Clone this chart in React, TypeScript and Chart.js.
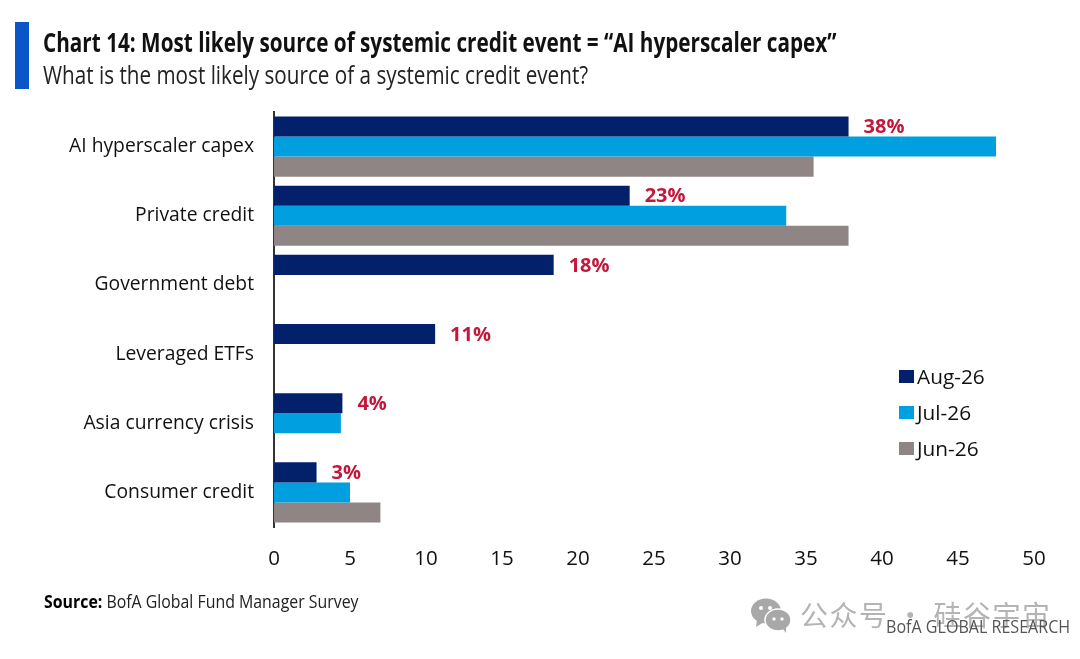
import React, { useEffect, useRef } from "react";
import { Chart, registerables } from "chart.js";

Chart.register(...registerables);

const categories = ["AI hyperscaler capex", "Private credit", "Government debt", "Leveraged ETFs", "Asia currency crisis", "Consumer credit"];
const aug26 = [37.8, 23.4, 18.4, 10.6, 4.5, 2.8];
const jul26 = [47.5, 33.7, null, null, 4.4, 5];
const jun26 = [35.5, 37.8, null, null, null, 7];
const augLabels = ["38%", "23%", "18%", "11%", "4%", "3%"];
const seriesNames = ["Aug-26", "Jul-26", "Jun-26"];
const seriesColors = ["#03216b", "#009fdf", "#908585"];
const xTicks = [0, 5, 10, 15, 20, 25, 30, 35, 40, 45, 50];

const FONT = '"Open Sans", "Noto Sans", sans-serif';

const labelPlugin = {
  id: "augLabels",
  afterDatasetsDraw(chart: any) {
    const { ctx } = chart;
    const meta = chart.getDatasetMeta(0);
    ctx.save();
    ctx.font = `700 20px ${FONT}`;
    ctx.fillStyle = "#c4173c";
    ctx.textAlign = "left";
    ctx.textBaseline = "middle";
    meta.data.forEach((bar: any, i: number) => {
      ctx.fillText(augLabels[i], bar.x + 15, bar.y + 1);
    });
    ctx.restore();
  },
};

const abs = (s: React.CSSProperties): React.CSSProperties => ({ position: "absolute", whiteSpace: "nowrap", fontFamily: FONT, ...s });

export default function App() {
  const ref = useRef<HTMLCanvasElement>(null);
  useEffect(() => {
    const chart = new Chart(ref.current!, {
      type: "bar",
      data: {
        labels: categories,
        datasets: [aug26, jul26, jun26].map((data, i) => ({
          label: seriesNames[i],
          data,
          backgroundColor: seriesColors[i],
          borderWidth: 0,
          barPercentage: 1,
          categoryPercentage: 0.87,
        })),
      },
      options: {
        indexAxis: "y",
        responsive: false,
        animation: false,
        devicePixelRatio: 1,
        layout: { padding: { top: 112, right: 46, left: 0, bottom: 0 } },
        plugins: { legend: { display: false }, tooltip: { enabled: false } },
        scales: {
          x: {
            min: 0,
            max: 50,
            afterBuildTicks: (s: any) => { s.ticks = xTicks.map((value) => ({ value })); },
            afterFit: (s: any) => { s.height = 132; },
            grid: { display: false, drawTicks: false },
            border: { display: false },
            ticks: { padding: 20, maxRotation: 0, autoSkip: false, color: "#111", font: { family: FONT, size: 20.5 } },
          },
          y: {
            afterFit: (s: any) => { s.width = 274; },
            grid: { display: false, drawTicks: false },
            border: { display: true, color: "#333333", width: 2 },
            ticks: { padding: 20, color: "#111", font: { family: FONT, size: 19.3 } },
          },
        },
      } as any,
      plugins: [labelPlugin],
    });
    return () => chart.destroy();
  }, []);

  return (
    <div style={{ position: "absolute", left: 0, top: 0, width: 1080, height: 659, background: "#fff", overflow: "hidden" }}>
      <canvas ref={ref} width={1080} height={659} style={{ position: "absolute", left: 0, top: 0 }} />
      <div style={{ position: "absolute", left: 15, top: 22, width: 14, height: 67, background: "#0a56c9" }} />
      <div style={abs({ left: 43, top: 24, fontSize: 26, lineHeight: "36px", fontWeight: 700, color: "#111", transform: "scaleX(0.797)", transformOrigin: "left top" })}>
        Chart 14: Most likely source of systemic credit event = “AI hyperscaler capex”
      </div>
      <div style={abs({ left: 43, top: 56, fontSize: 25, lineHeight: "36px", color: "#222", transform: "scaleX(0.827)", transformOrigin: "left top" })}>
        What is the most likely source of a systemic credit event?
      </div>
      {seriesNames.map((name, i) => (
        <React.Fragment key={name}>
          <div style={{ position: "absolute", left: 899, top: 370 + i * 36, width: 15, height: 13, background: seriesColors[i] }} />
          <div style={abs({ left: 917, top: 362 + i * 36, fontSize: 20.8, lineHeight: "28px", color: "#111" })}>{name}</div>
        </React.Fragment>
      ))}
      <div style={abs({ left: 44, top: 588, fontSize: 18, lineHeight: "26px", color: "#222", transform: "scaleX(0.882)", transformOrigin: "left top" })}>
        <b style={{ color: "#000" }}>Source:</b> BofA Global Fund Manager Survey
      </div>
      <svg style={{ position: "absolute", left: 750, top: 598 }} width={42} height={36} viewBox="0 0 42 36">
        <ellipse cx="16" cy="13" rx="15" ry="12.5" fill="#a8a8a8" />
        <path d="M7 22 L6 29 L14 24 Z" fill="#a8a8a8" />
        <ellipse cx="28" cy="22" rx="13" ry="11" fill="#a8a8a8" stroke="#fff" strokeWidth="1.5" />
        <path d="M33 31 L36 35 L36 28 Z" fill="#a8a8a8" />
        <circle cx="11" cy="10" r="2" fill="#fff" />
        <circle cx="20" cy="10" r="2" fill="#fff" />
        <circle cx="24" cy="21" r="1.7" fill="#fff" />
        <circle cx="32" cy="21" r="1.7" fill="#fff" />
      </svg>
      <div style={abs({ left: 800, top: 596, fontSize: 28, lineHeight: "36px", color: "#b4b4b4", fontFamily: '"Noto Sans CJK SC", sans-serif', letterSpacing: 1.5 })}>
        公众号 · 硅谷宇宙
      </div>
      <div style={abs({ left: 886, top: 613, fontSize: 18, lineHeight: "26px", color: "#555", transform: "scaleX(0.893)", transformOrigin: "left top" })}>
        BofA GLOBAL RESEARCH
      </div>
    </div>
  );
}
